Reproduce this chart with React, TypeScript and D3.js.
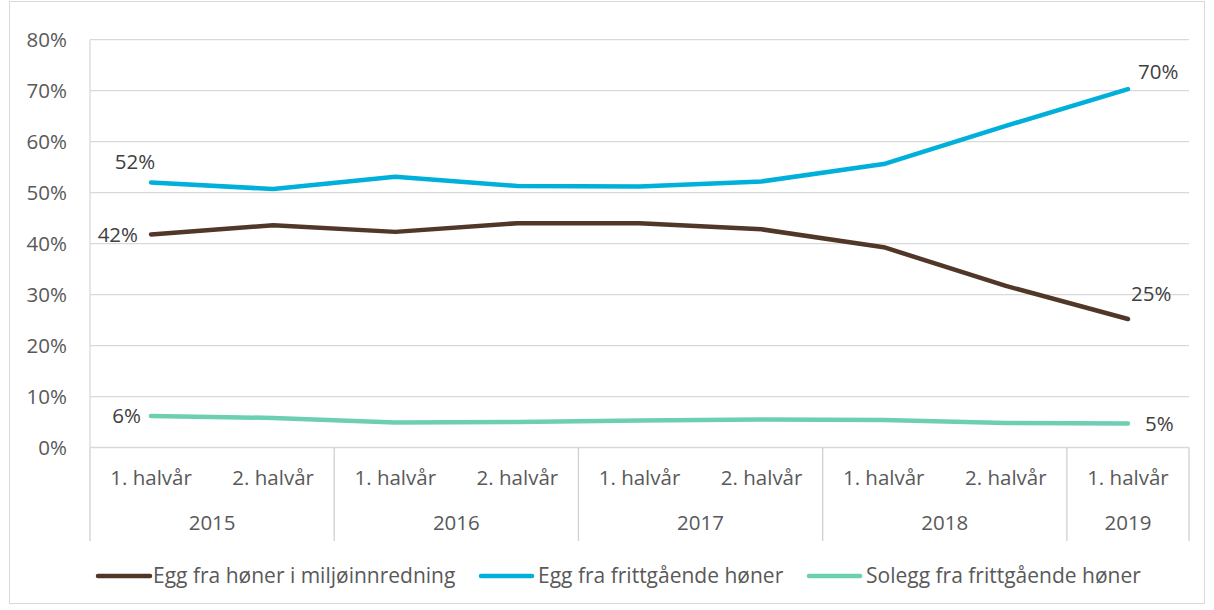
import React from "react";
import * as d3 from "d3";

const halves = ["1. halvår", "2. halvår", "1. halvår", "2. halvår", "1. halvår", "2. halvår", "1. halvår", "2. halvår", "1. halvår"];
const years = ["2015", "2016", "2017", "2018", "2019"];
const yearSpans = [2, 2, 2, 2, 1];
const miljo = [41.8, 43.6, 42.3, 44.0, 44.0, 42.8, 39.3, 31.7, 25.2];
const fritt = [52.0, 50.7, 53.1, 51.3, 51.2, 52.2, 55.6, 63.1, 70.3];
const solegg = [6.2, 5.8, 4.9, 5.0, 5.3, 5.5, 5.4, 4.8, 4.7];
const yTicks = [0, 10, 20, 30, 40, 50, 60, 70, 80];
const seriesNames = ["Egg fra høner i miljøinnredning", "Egg fra frittgående høner", "Solegg fra frittgående høner"];
const colors = ["#513728", "#00B0DA", "#6CCFB2"];

const W = 1214, H = 610;
const left = 90, right = 1189, top = 39.7, bottom = 447.5;
const FONT = "'Open Sans', sans-serif";
const TXT = "#595959";

export default function App() {
  const idx = halves.map((_, i) => i);
  const x = d3.scaleBand<number>().domain(idx).range([left, right]).padding(0);
  const y = d3.scaleLinear().domain([0, 80]).range([bottom, top]);
  const cx = (i: number) => (x(i) as number) + x.bandwidth() / 2;
  const line = d3.line<number>().x((_, i) => cx(i)).y((d) => y(d));
  const series = [miljo, fritt, solegg];

  const seps: number[] = [0];
  let acc = 0;
  yearSpans.forEach((s) => { acc += s; seps.push(acc); });
  const sepX = (k: number) => (k >= idx.length ? right : (x(k) as number));

  const last = idx.length - 1;
  const fs = 20.5;
  const lfs = 21;
  const LBL = "#404040";
  const legendPos = [{ x0: 96, x1: 152, tx: 153 }, { x0: 479, x1: 534, tx: 538 }, { x0: 807, x1: 862, tx: 866 }];

  return (
    <svg width={W} height={H} style={{ position: "absolute", left: 0, top: 0, background: "#fff" }} fontFamily={FONT}>
      <rect x={9.5} y={1.5} width={1195} height={602} fill="#fff" stroke="#D9D9D9" strokeWidth={1} />
      {yTicks.map((t) => (
        <g key={t}>
          <line x1={left} x2={right} y1={y(t)} y2={y(t)} stroke="#D9D9D9" strokeWidth={1.3} />
          <text x={67} y={y(t)} dy="0.35em" textAnchor="end" fontSize={fs} fill={TXT}>{t}%</text>
        </g>
      ))}
      <line x1={left} x2={left} y1={top} y2={bottom} stroke="#D9D9D9" strokeWidth={1.3} />
      {seps.map((k, j) => (
        <line key={j} x1={sepX(k)} x2={sepX(k)} y1={bottom} y2={541} stroke="#D0D0D0" strokeWidth={1.3} />
      ))}
      {halves.map((h, i) => (
        <text key={i} x={cx(i)} y={478} dy="0.35em" textAnchor="middle" fontSize={fs} fill={TXT}>{h}</text>
      ))}
      {years.map((yr, j) => {
        const a = sepX(seps[j]);
        const b = sepX(seps[j + 1]);
        return (
          <text key={yr} x={(a + b) / 2} y={523} dy="0.35em" textAnchor="middle" fontSize={fs} fill={TXT}>{yr}</text>
        );
      })}
      {series.map((s, k) => (
        <path key={k} d={line(s) as string} fill="none" stroke={colors[k]} strokeWidth={4.5} strokeLinecap="round" strokeLinejoin="round" />
      ))}
      <text x={cx(0) - 16} y={y(fritt[0]) - 21} dy="0.35em" textAnchor="middle" fontSize={fs} fill={LBL}>{Math.round(fritt[0])}%</text>
      <text x={cx(0) - 13} y={y(miljo[0])} dy="0.35em" textAnchor="end" fontSize={fs} fill={LBL}>{Math.round(miljo[0])}%</text>
      <text x={cx(0) - 10} y={y(solegg[0])} dy="0.35em" textAnchor="end" fontSize={fs} fill={LBL}>{Math.round(solegg[0])}%</text>
      <text x={cx(last) + 10} y={y(fritt[last]) - 17} dy="0.35em" textAnchor="start" fontSize={fs} fill={LBL}>{Math.round(fritt[last])}%</text>
      <text x={cx(last) + 3} y={y(miljo[last]) - 25} dy="0.35em" textAnchor="start" fontSize={fs} fill={LBL}>{Math.round(miljo[last])}%</text>
      <text x={cx(last) + 17} y={y(solegg[last])} dy="0.35em" textAnchor="start" fontSize={fs} fill={LBL}>{Math.round(solegg[last])}%</text>
      {legendPos.map((p, k) => (
        <g key={k}>
          <line x1={p.x0 + 2} x2={p.x1 - 2} y1={576} y2={576} stroke={colors[k]} strokeWidth={4.5} strokeLinecap="round" />
          <text x={p.tx} y={576} dy="0.35em" fontSize={lfs} fill={TXT}>{seriesNames[k]}</text>
        </g>
      ))}
    </svg>
  );
}
